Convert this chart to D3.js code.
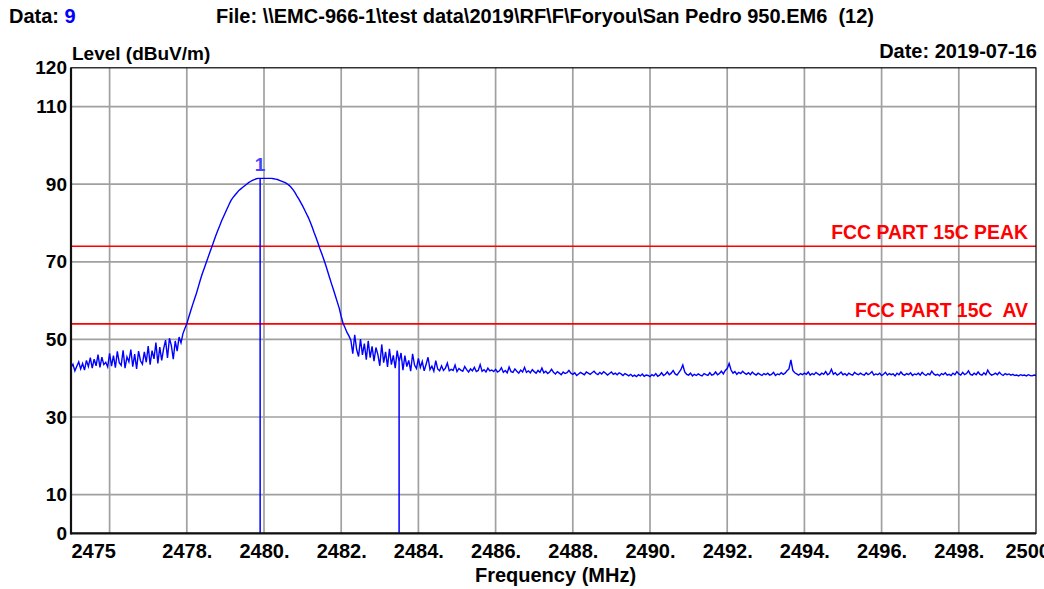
<!DOCTYPE html>
<html><head><meta charset="utf-8">
<script src="https://cdn.jsdelivr.net/npm/d3@7"></script>
<style>
body{margin:0;background:#fff}
svg{display:block}
text{font-family:"Liberation Sans",Arial,sans-serif;font-weight:bold;white-space:pre}
</style>
</head><body>
<svg id="chart" width="1044" height="589"></svg>
<script>
// ---- data ----
const freqStart = 2475;      // MHz, first sweep point
const freqStep = 0.05;       // MHz between sweep points
const levels = [
 42.8,43.6,41.9,43.1,44.2,42.4,43.8,42.1,44.6,43.0,
 45.3,42.6,44.9,43.2,46.1,42.8,45.4,43.5,44.1,42.9,
 46.4,43.1,45.8,42.7,46.9,44.0,43.3,47.2,42.6,45.5,
 44.2,47.4,43.0,46.2,42.4,47.0,44.5,43.6,46.8,44.1,
 48.3,43.5,47.1,45.0,49.2,43.8,48.0,44.6,47.6,49.8,
 45.2,50.3,48.4,44.9,49.6,47.0,50.6,49.1,51.5,52.8,
 54.0,55.7,57.3,58.9,60.4,61.9,63.6,65.3,66.9,68.3,
 69.7,71.1,72.5,73.9,75.3,76.7,78.0,79.2,80.5,81.6,
 82.7,83.8,84.9,85.9,86.6,87.2,87.8,88.4,88.8,89.2,
 89.6,90.0,90.4,90.7,91.0,91.2,91.4,91.5,91.5,91.5,
 91.5,91.5,91.5,91.5,91.5,91.4,91.3,91.2,91.0,90.8,
 90.6,90.4,90.1,89.7,89.2,88.6,87.9,87.0,86.2,85.3,
 84.4,83.4,82.4,81.4,80.2,78.9,77.5,76.2,74.8,73.3,
 72.0,70.6,69.1,67.5,65.9,64.3,62.8,61.2,59.6,58.0,
 55.9,54.1,53.0,51.8,50.9,
 49.8,46.3,51.2,47.4,45.6,50.1,46.0,48.9,44.8,49.6,
 45.3,48.2,44.4,47.9,46.1,43.2,48.7,44.0,46.8,42.9,
 47.6,43.5,45.9,42.6,47.1,44.2,46.5,42.1,45.8,43.0,
 44.6,41.8,46.3,43.4,42.5,45.1,42.8,44.3,41.9,43.6,
 45.4,42.2,43.1,41.8,44.5,42.4,41.9,43.2,42.0,42.6,
 43.9,41.9,42.3,42.0,43.4,41.7,42.5,42.1,41.8,43.0,42.2,41.6,42.4,41.9,42.8,
 41.7,42.0,43.5,41.8,42.2,41.6,42.6,41.9,42.1,41.7,
 42.3,41.6,41.9,42.7,41.5,42.0,41.4,42.9,41.7,41.5,
 42.4,41.8,41.3,42.1,41.6,42.8,41.5,41.9,41.4,42.2,
 41.7,41.3,42.0,41.5,42.6,41.4,41.8,41.2,41.6,42.3,
 41.5,41.1,41.7,41.3,40.9,41.6,41.2,41.4,42.0,41.3,
 41.0,41.4,40.7,41.1,41.5,41.2,40.9,41.6,41.3,41.0,
 41.4,41.8,41.2,40.9,41.5,41.1,41.7,41.3,40.8,41.2,
 41.6,41.0,41.3,40.9,41.4,41.1,40.7,41.2,40.9,40.6,
 41.0,40.5,40.8,40.4,40.9,40.6,41.1,40.5,40.8,40.7,
 40.4,40.9,40.6,41.2,40.5,40.8,41.4,40.7,41.0,41.6,
 40.9,41.3,42.0,41.1,40.8,41.5,42.2,43.4,41.6,41.0,
 40.8,41.3,40.6,41.0,40.7,41.1,40.8,40.6,41.2,40.9,
 40.7,41.4,40.8,41.0,41.6,40.9,41.2,41.8,41.1,42.0,
 42.5,43.8,42.1,41.3,41.7,41.0,41.5,41.2,41.8,41.3,
 41.0,41.4,40.9,41.6,41.1,40.8,41.3,41.0,40.7,41.2,
 40.9,41.3,40.8,41.0,41.5,40.7,41.1,40.9,41.4,41.0,
 41.3,41.9,42.4,44.7,42.0,41.4,41.1,40.8,41.2,40.9,
 41.3,41.0,41.6,40.8,41.2,40.9,41.5,41.1,40.8,41.3,
 41.0,41.7,40.9,41.2,42.3,41.0,41.4,40.8,41.1,41.6,
 40.9,41.2,40.7,41.3,41.0,40.8,41.5,41.1,40.9,41.3,
 41.0,40.8,41.4,40.9,41.2,41.7,40.8,41.1,40.9,41.3,
 40.7,41.0,41.5,40.8,41.2,40.9,41.1,40.6,41.3,40.9,
 41.6,41.0,40.8,41.2,40.9,41.4,40.7,41.1,40.9,41.3,
 40.8,41.5,41.0,40.7,41.2,40.9,41.8,41.1,40.8,41.0,
 40.6,41.2,40.9,41.4,40.8,41.0,40.7,41.3,40.9,41.7,
 41.1,40.8,41.5,40.9,41.2,41.9,41.0,40.8,41.3,40.9,
 41.6,41.0,40.8,41.4,40.9,42.1,41.2,40.8,41.0,41.3,
 40.9,41.5,41.0,40.7,41.2,40.9,41.1,40.8,41.0,40.7,
 40.8,40.6,40.9,40.7,40.8,40.6,40.9,40.7,40.6,40.8,40.7
];
const yDomain = [0, 120];
const xDomain = [2475, 2500];
const yTickValues = [0, 10, 30, 50, 70, 90, 110, 120];
const yGridValues = [10, 30, 50, 70, 90, 110];
const xGridValues = [2476, 2478, 2480, 2482, 2484, 2486, 2488, 2490, 2492, 2494, 2496, 2498];
const xTickValues = [2475, 2478, 2480, 2482, 2484, 2486, 2488, 2490, 2492, 2494, 2496, 2498, 2500];
const xTickLabels = ["2475", "2478.", "2480.", "2482.", "2484.", "2486.", "2488.", "2490.", "2492.", "2494.", "2496.", "2498.", "2500."];
const limitNames = ["FCC PART 15C PEAK", "FCC PART 15C  AV"];
const limitValues = [74, 54];
const markerIds = ["1", "2"];
const markerFreqs = [2479.9, 2483.5];
const markerLevels = [91.5, 44.2];
const markerShowLabel = [true, false];

// ---- layout ----
const svg = d3.select("#chart");
const L = 71, R = 1036, T = 67.8, B = 533.4;
const x = d3.scaleLinear().domain(xDomain).range([L, R]);
const y = d3.scaleLinear().domain(yDomain).range([B, T]);
const FS = 20, FSY = 19, FSL = 19.4;

// grid
svg.append("g").selectAll("line").data(yGridValues).join("line")
  .attr("x1", L).attr("x2", R).attr("y1", d => y(d)).attr("y2", d => y(d))
  .attr("stroke", "#a0a0a0").attr("stroke-width", 1.7);
svg.append("g").selectAll("line").data(xGridValues).join("line")
  .attr("y1", T).attr("y2", B).attr("x1", d => x(d)).attr("x2", d => x(d))
  .attr("stroke", "#a0a0a0").attr("stroke-width", 1.7);

// limit lines
limitValues.forEach((v, k) => {
  svg.append("line").attr("x1", L).attr("x2", R).attr("y1", y(v)).attr("y2", y(v))
    .attr("stroke", "#ff0000").attr("stroke-width", 1.6);
  svg.append("text").attr("x", 1028).attr("y", y(v) - 7).attr("text-anchor", "end")
    .attr("font-size", FSL).attr("fill", "#ff0000").text(limitNames[k]);
});

// trace
const pts = levels.map((v, i) => [freqStart + i * freqStep, v]);
svg.append("path").datum(pts)
  .attr("d", d3.line().x(d => x(d[0])).y(d => y(d[1])))
  .attr("fill", "none").attr("stroke", "#0000ff").attr("stroke-width", 1.4)
  .attr("stroke-linejoin", "miter");

// markers
markerFreqs.forEach((f, k) => {
  svg.append("line").attr("x1", x(f)).attr("x2", x(f)).attr("y1", y(markerLevels[k])).attr("y2", y(0))
    .attr("stroke", "#0000ff").attr("stroke-width", 1.5);
  if (markerShowLabel[k]) {
    svg.append("text").attr("x", x(f)).attr("y", y(markerLevels[k]) - 7).attr("text-anchor", "middle")
      .attr("font-size", FSY).attr("font-weight", "normal").attr("fill", "#4444ff").text(markerIds[k]);
  }
});

// frame
svg.append("rect").attr("x", L).attr("y", T).attr("width", R - L).attr("height", B - T)
  .attr("fill", "none").attr("stroke", "#000").attr("stroke-width", 1.2);
svg.append("line").attr("x1", L).attr("x2", L).attr("y1", T).attr("y2", B + 1).attr("stroke", "#111").attr("stroke-width", 2.2);
svg.append("line").attr("x1", L).attr("x2", R).attr("y1", B).attr("y2", B).attr("stroke", "#111").attr("stroke-width", 2.2);

// axes
const yAxis = svg.append("g").attr("transform", `translate(${L},0)`)
  .call(d3.axisLeft(y).tickValues(yTickValues).tickSize(0).tickPadding(4));
yAxis.select(".domain").remove();
yAxis.selectAll("text").attr("font-size", FSY).attr("fill", "#000")
  .style("font-family", '"Liberation Sans",Arial,sans-serif').style("font-weight", "bold");

const lastIdx = xTickValues.length - 1;
const xAxis = svg.append("g").attr("transform", `translate(0,${B})`)
  .call(d3.axisBottom(x).tickValues(xTickValues).tickSize(0).tickPadding(10)
    .tickFormat((d, i) => xTickLabels[i]));
xAxis.select(".domain").remove();
xAxis.selectAll("text").attr("font-size", FS).attr("fill", "#000")
  .style("font-family", '"Liberation Sans",Arial,sans-serif').style("font-weight", "bold")
  .attr("text-anchor", (d, i) => i === 0 ? "start" : "middle")
  .attr("dx", (d, i) => i === lastIdx ? -6 : 0);

// titles
svg.append("text").attr("x", L + 1).attr("y", 60).attr("font-size", FSY).attr("fill", "#000").text("Level (dBuV/m)");
svg.append("text").attr("x", (L + R) / 2 + 2).attr("y", 582).attr("text-anchor", "middle")
  .attr("font-size", FS).attr("fill", "#000").text("Frequency (MHz)");
const dt = svg.append("text").attr("x", 9).attr("y", 23).attr("font-size", FS).attr("fill", "#000");
dt.append("tspan").text("Data: ");
dt.append("tspan").attr("fill", "#0000ff").text("9");
svg.append("text").attr("x", 216).attr("y", 23).attr("font-size", FS).attr("fill", "#000")
  .text("File: \\\\EMC-966-1\\test data\\2019\\RF\\F\\Foryou\\San Pedro 950.EM6  (12)");
svg.append("text").attr("x", 1037).attr("y", 58).attr("text-anchor", "end").attr("font-size", FS).attr("fill", "#000")
  .text("Date: 2019-07-16");
</script>
</body></html>
